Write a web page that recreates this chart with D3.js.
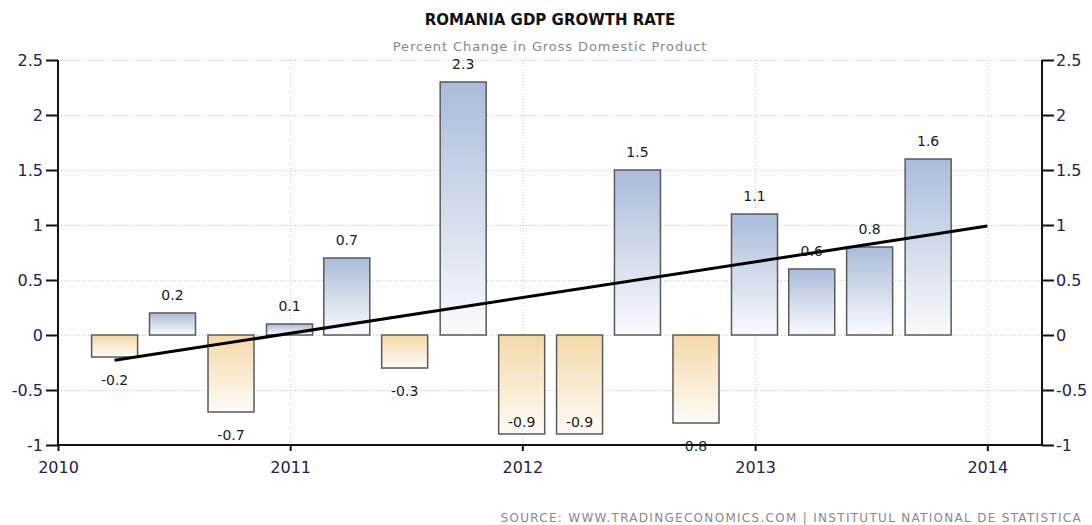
<!DOCTYPE html>
<html>
<head>
<meta charset="utf-8">
<script src="https://cdn.jsdelivr.net/npm/d3@7"></script>
<style>
  body { margin: 0; background: #fff; }
  svg text { font-family: Tahoma, "DejaVu Sans", Verdana, sans-serif; }
  .tick text { fill: #22224a; font-size: 16px; }
  .grid line { stroke: #c8c8c8; stroke-dasharray: 1,2; }
  .grid .domain { display: none; }
</style>
</head>
<body>
<div id="chart"></div>
<script>
// quarterly GDP growth, dated at quarter end
let quarters = ['2010-03-31','2010-06-30','2010-09-30','2010-12-31',
                '2011-03-31','2011-06-30','2011-09-30','2011-12-31',
                '2012-03-31','2012-06-30','2012-09-30','2012-12-31',
                '2013-03-31','2013-06-30','2013-09-30'];
let values = [-0.2, 0.2, -0.7, 0.1, 0.7, -0.3, 2.3, -0.9, -0.9, 1.5, -0.8, 1.1, 0.6, 0.8, 1.6];
let labels = ['-0.2','0.2','-0.7','0.1','0.7','-0.3','2.3','-0.9','-0.9','1.5','0.8','1.1','0.6','0.8','1.6'];
let trendDates = ['2010-03-31','2014-01-01'];
let trendValues = [-0.23, 0.99];
let yTicks = [-1, -0.5, 0, 0.5, 1, 1.5, 2, 2.5];
let yearTicks = ['2010-01-01','2011-01-01','2012-01-01','2013-01-01','2014-01-01'];

let W = 1092, H = 525;
let margin = {top: 60, right: 50, bottom: 80, left: 58};
let width = W - margin.left - margin.right;
let height = H - margin.top - margin.bottom;
let parse = d3.timeParse('%Y-%m-%d');
let plainNum = d => String(d); // keeps the ascii hyphen as minus sign

let svg = d3.select('#chart').append('svg')
    .attr('width', W)
    .attr('height', H);

let defs = svg.append('defs');
let gPos = defs.append('linearGradient').attr('id', 'gPos')
    .attr('x1', 0).attr('y1', 0).attr('x2', 0).attr('y2', 1);
gPos.append('stop').attr('offset', '0%').attr('stop-color', '#aabcda');
gPos.append('stop').attr('offset', '100%').attr('stop-color', '#fafbfe');
let gNeg = defs.append('linearGradient').attr('id', 'gNeg')
    .attr('x1', 0).attr('y1', 0).attr('x2', 0).attr('y2', 1);
gNeg.append('stop').attr('offset', '0%').attr('stop-color', '#f4d9a8');
gNeg.append('stop').attr('offset', '100%').attr('stop-color', '#fffcf7');

let g = svg.append('g')
    .attr('transform', 'translate(' + margin.left + ',' + margin.top + ')');

let x = d3.scaleTime()
    .domain([parse('2010-01-01'), parse('2014-03-28')])
    .range([0, width]);
let y = d3.scaleLinear()
    .domain([-1, 2.5])
    .range([height, 0]);

g.append('g') // horizontal dotted grid
    .attr('class', 'grid')
    .call(d3.axisLeft(y).tickValues(yTicks).tickSize(-width).tickFormat(''));
g.append('g') // vertical dotted grid
    .attr('class', 'grid')
    .attr('transform', 'translate(0,' + height + ')')
    .call(d3.axisBottom(x).tickValues(yearTicks.map(parse)).tickSize(-height).tickFormat(''));

let barW = 46;
g.selectAll('.bar') // quarterly bars
    .data(values).enter().append('rect')
    .attr('class', 'bar')
    .attr('x', (d, i) => x(parse(quarters[i])) - barW / 2)
    .attr('y', d => d >= 0 ? y(d) : y(0))
    .attr('width', barW)
    .attr('height', d => Math.abs(y(d) - y(0)))
    .attr('fill', d => d >= 0 ? 'url(#gPos)' : 'url(#gNeg)')
    .attr('stroke', '#5a5a5a')
    .attr('stroke-width', 1.5);

g.append('path') // trend line
    .datum(trendValues)
    .attr('fill', 'none')
    .attr('stroke', '#000')
    .attr('stroke-width', 3)
    .attr('d', d3.line()
        .x((d, i) => x(parse(trendDates[i])))
        .y(d => y(d)));

g.selectAll('.lbl') // value labels
    .data(values).enter().append('text')
    .attr('class', 'lbl')
    .attr('x', (d, i) => x(parse(quarters[i])))
    .attr('y', d => {
        if (d >= 0) return y(d) - 13;
        let yy = y(d) + 28;
        return yy > y(-1) + 6 ? y(d) - 7 : yy;
    })
    .attr('text-anchor', 'middle')
    .attr('font-size', 14)
    .attr('fill', '#1a1a1a')
    .text((d, i) => labels[i]);

let yl = g.append('g') // left axis
    .call(d3.axisLeft(y).tickValues(yTicks).tickSize(12).tickPadding(3).tickFormat(plainNum));
let yr = g.append('g') // right axis
    .attr('transform', 'translate(' + width + ',0)')
    .call(d3.axisRight(y).tickValues(yTicks).tickSize(12).tickPadding(2).tickFormat(plainNum));
let xa = g.append('g') // x axis
    .attr('transform', 'translate(0,' + height + ')')
    .call(d3.axisBottom(x).tickValues(yearTicks.map(parse)).tickSize(6).tickPadding(11).tickFormat(d3.timeFormat('%Y')));
[yl, yr, xa].forEach(a => {
    a.select('.domain').attr('stroke', '#111').attr('stroke-width', 2);
    a.selectAll('.tick line').attr('stroke', '#111').attr('stroke-width', 2);
});
xa.select('.domain').attr('d', 'M0,0H' + width);
yl.select('.domain').attr('d', 'M0,' + height + 'V0');
yr.select('.domain').attr('d', 'M0,' + height + 'V0');

svg.append('text') // title
    .attr('x', margin.left + width / 2)
    .attr('y', 25)
    .attr('text-anchor', 'middle')
    .attr('font-size', 15)
    .attr('font-weight', 'bold')
    .attr('fill', '#111')
    .text('ROMANIA GDP GROWTH RATE');
svg.append('text') // subtitle
    .attr('x', margin.left + width / 2)
    .attr('y', 51)
    .attr('text-anchor', 'middle')
    .attr('font-size', 13)
    .attr('letter-spacing', 0.9)
    .attr('fill', '#888')
    .text('Percent Change in Gross Domestic Product');
svg.append('text') // source
    .attr('x', 1082)
    .attr('y', 522)
    .attr('text-anchor', 'end')
    .attr('font-size', 12)
    .attr('letter-spacing', 1.3)
    .attr('fill', '#888')
    .text('SOURCE: WWW.TRADINGECONOMICS.COM  |  INSTITUTUL NATIONAL DE STATISTICA');
</script>
</body>
</html>
